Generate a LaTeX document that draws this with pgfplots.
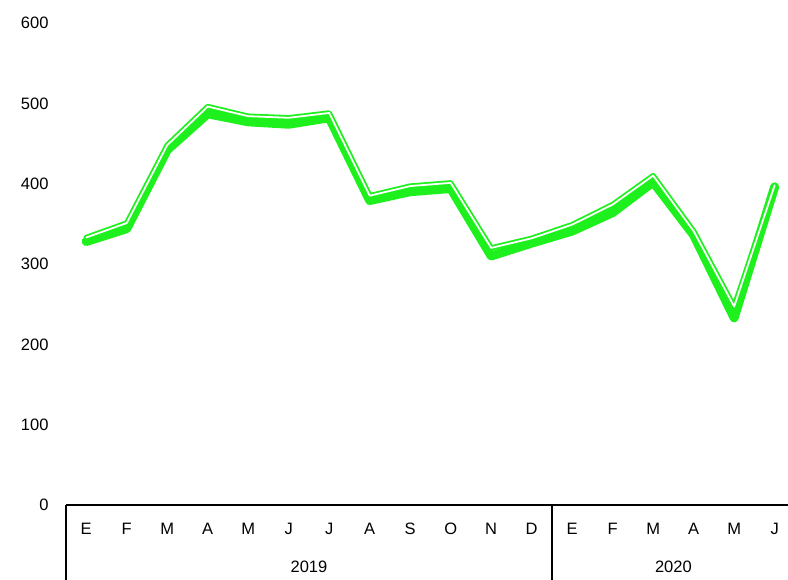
\documentclass[border=0pt]{standalone}
\usepackage{fontspec}
\setmainfont{Liberation Sans}
\usepackage{pgfplots}
\pgfplotsset{compat=1.18}
\definecolor{lineGreen}{RGB}{30,240,30}
\begin{document}
\begin{tikzpicture}
\useasboundingbox (0,0) rectangle (788pt,579pt);
\begin{axis}[
    at={(66pt,74pt)}, anchor=south west,
    scale only axis,
    width=722pt, height=482pt,
    xmin=-0.5, xmax=17.33,
    ymin=0, ymax=600,
    ytick={0,100,...,600},
    xtick={0,...,17},
    xticklabels={E,F,M,A,M,J,J,A,S,O,N,D,E,F,M,A,M,J},
    axis line style={draw=none},
    major tick length=0pt,
    clip=false,
    /pgf/number format/assume math mode=true,
    tick label style={font=\fontsize{16.5}{19}\selectfont},
    y tick label style={xshift=-14pt},
    x tick label style={anchor=base, yshift=-29pt},
]
% thick series
\addplot[lineGreen, line width=9pt, line join=round, line cap=round] coordinates {
    (0,328) (1,344) (2,442) (3,487) (4,477) (5,474) (6,482) (7,379) (8,390)
    (9,394) (10,310) (11,326) (12,341) (13,364) (14,402) (15,336) (16,233) (17,396)
};
% thin double series
\addplot[lineGreen, line width=1.8pt, double=white, double distance=1.8pt, line join=round, line cap=round] coordinates {
    (0,333) (1,351) (2,448) (3,496) (4,484) (5,482) (6,488) (7,385) (8,397)
    (9,401) (10,320) (11,332) (12,349) (13,374) (14,410) (15,341) (16,247) (17,398)
};
\draw[line width=2pt] (axis cs:-0.5,0) -- (axis cs:17.33,0);
\draw[line width=2pt] (axis cs:-0.5,0) -- ++(0pt,-80pt);
\draw[line width=2pt] (axis cs:11.5,0) -- ++(0pt,-80pt);
\node[font=\fontsize{16.5}{19}\selectfont] at ([yshift=-62pt]axis cs:5.5,0) {2019};
\node[font=\fontsize{16.5}{19}\selectfont] at ([yshift=-62pt]axis cs:14.5,0) {2020};
\end{axis}
\end{tikzpicture}
\end{document}
